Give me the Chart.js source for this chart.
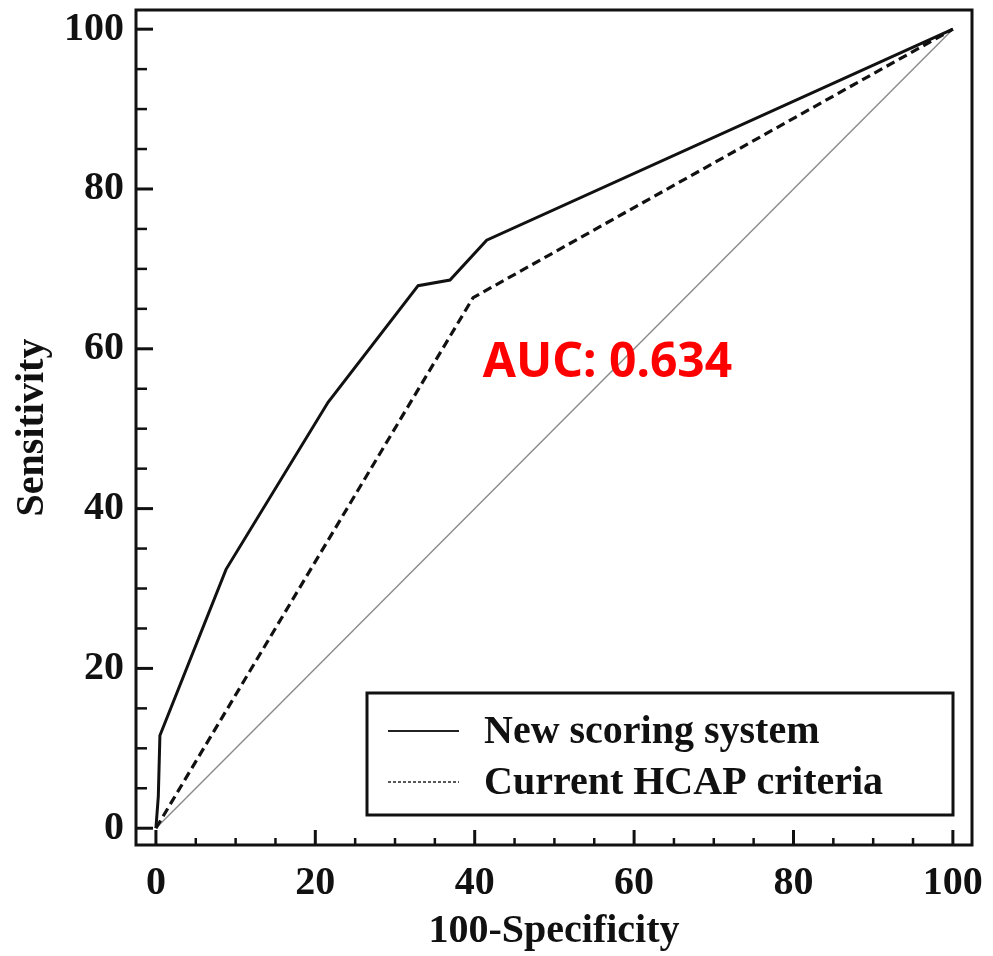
<!DOCTYPE html>
<html>
<head>
<meta charset="utf-8">
<script src="https://cdn.jsdelivr.net/npm/chart.js@4"></script>
<style>
  html, body { margin: 0; padding: 0; background: #fff; }
  #wrap { width: 993px; height: 956px; }
</style>
</head>
<body>
<div id="wrap"><canvas id="roc"></canvas></div>
<script>
// data
const newScoringX = [0, 0.3, 0.5, 8.8, 21.6, 32.9, 36.9, 41.5, 100];
const newScoringY = [0, 4, 11.6, 32.4, 53.3, 67.9, 68.6, 73.6, 100];
const hcapX = [0, 39.8, 100];
const hcapY = [0, 66.4, 100];
const refX = [0, 100];
const refY = [0, 100];
const tickValues = [0, 20, 40, 60, 80, 100];
const minorStep = 5;
const aucText = "AUC: 0.634";

const serif = "'Liberation Serif', 'Times New Roman', serif";

function pts(xs, ys) {
  return xs.map((x, i) => ({ x: x, y: ys[i] }));
}

// frame, inward ticks, legend box and the AUC note
const decorations = {
  id: "decorations",
  afterDraw(chart) {
    const ctx = chart.ctx;
    const a = chart.chartArea;
    const xs = chart.scales.x;
    const ys = chart.scales.y;
    ctx.save();
    ctx.strokeStyle = "#111";
    ctx.lineCap = "butt";

    // ticks every 5, longer every 20
    for (let v = 0; v <= 100; v += minorStep) {
      const major = v % 20 === 0;
      ctx.lineWidth = major ? 3 : 2.5;
      const py = ys.getPixelForValue(v);
      ctx.beginPath();
      ctx.moveTo(a.left, py);
      ctx.lineTo(a.left + (major ? 17 : 11), py);
      ctx.stroke();
      const px = xs.getPixelForValue(v);
      ctx.beginPath();
      ctx.moveTo(px, a.bottom);
      ctx.lineTo(px, a.bottom - (major ? 15 : 7));
      ctx.stroke();
    }

    ctx.lineWidth = 3;
    ctx.strokeRect(a.left, a.top, a.right - a.left, a.bottom - a.top);

    // legend
    const lx = 367, ly = 693, lw = 586, lh = 122;
    ctx.fillStyle = "#fff";
    ctx.fillRect(lx, ly, lw, lh);
    ctx.lineWidth = 3;
    ctx.strokeRect(lx, ly, lw, lh);
    const rows = [
      { ds: chart.data.datasets[0], y: 731, dash: [], w: 2 },
      { ds: chart.data.datasets[1], y: 782, dash: [3, 2], w: 1.6 }
    ];
    ctx.font = "bold 40px " + serif;
    ctx.textBaseline = "alphabetic";
    ctx.textAlign = "left";
    rows.forEach(r => {
      ctx.beginPath();
      ctx.setLineDash(r.dash);
      ctx.lineWidth = r.w;
      ctx.strokeStyle = "#222";
      ctx.moveTo(388, r.y);
      ctx.lineTo(459, r.y);
      ctx.stroke();
      ctx.setLineDash([]);
      ctx.fillStyle = "#111";
      ctx.fillText(r.ds.label, 484, r.y + 12);
    });

    // AUC note
    ctx.fillStyle = "#ff0000";
    ctx.font = "bold 48px 'Noto Sans', sans-serif";
    ctx.fillText(aucText, xs.getPixelForValue(41), ys.getPixelForValue(56.5));
    ctx.restore();
  }
};

new Chart(document.getElementById("roc"), {
  type: "scatter",
  data: {
    datasets: [
      {
        label: "New scoring system",
        data: pts(newScoringX, newScoringY),
        showLine: true,
        borderColor: "#111",
        borderWidth: 3,
        pointRadius: 0,
        tension: 0
      },
      {
        label: "Current HCAP criteria",
        data: pts(hcapX, hcapY),
        showLine: true,
        borderColor: "#111",
        borderWidth: 3.2,
        borderDash: [9, 5],
        pointRadius: 0,
        tension: 0
      },
      {
        label: "Reference",
        data: pts(refX, refY),
        showLine: true,
        borderColor: "#8a8a8a",
        borderWidth: 1.4,
        pointRadius: 0,
        tension: 0
      }
    ]
  },
  options: {
    responsive: true,
    maintainAspectRatio: false,
    animation: false,
    layout: { padding: { top: 10, right: 21, left: 0, bottom: 0 } },
    plugins: {
      legend: { display: false },
      tooltip: { enabled: false }
    },
    scales: {
      x: {
        type: "linear",
        min: -2.5,
        max: 102.4,
        afterBuildTicks: s => { s.ticks = tickValues.map(v => ({ value: v })); },
        afterFit: s => { s.height = 111; s.paddingLeft = 0; s.paddingRight = 0; },
        grid: { display: false, drawTicks: false },
        border: { display: false },
        ticks: {
          padding: 15,
          color: "#111",
          font: { family: serif, size: 40, weight: "bold" }
        },
        title: {
          display: true,
          text: "100-Specificity",
          color: "#111",
          padding: { top: 0, bottom: 0 },
          font: { family: serif, size: 40, weight: "bold" }
        }
      },
      y: {
        type: "linear",
        min: -2.1,
        max: 102.4,
        afterBuildTicks: s => { s.ticks = tickValues.map(v => ({ value: v })); },
        afterFit: s => { s.width = 136; s.paddingTop = 0; s.paddingBottom = 0; },
        grid: { display: false, drawTicks: false },
        border: { display: false },
        ticks: {
          padding: 12,
          color: "#111",
          font: { family: serif, size: 40, weight: "bold" }
        },
        title: {
          display: true,
          text: "Sensitivity",
          color: "#111",
          padding: { top: 9, bottom: 0 },
          font: { family: serif, size: 40, weight: "bold" }
        }
      }
    }
  },
  plugins: [decorations]
});
</script>
</body>
</html>
